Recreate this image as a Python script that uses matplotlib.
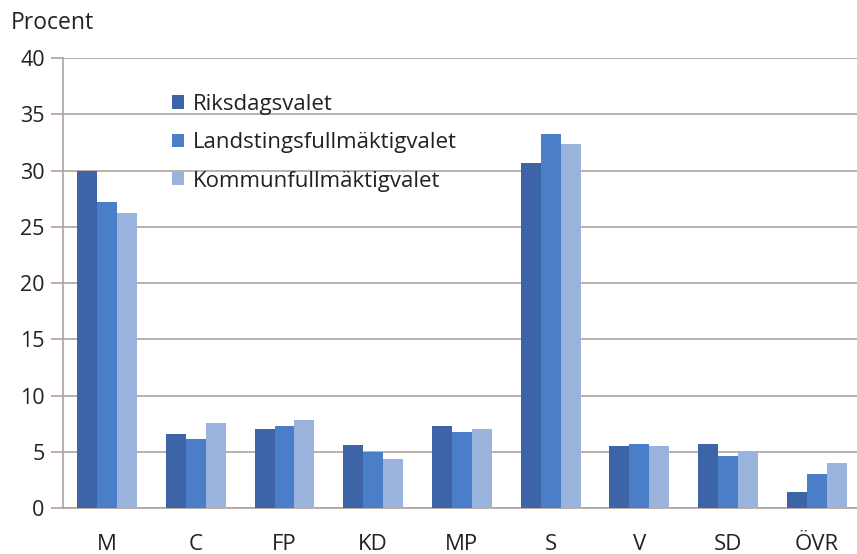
import matplotlib
matplotlib.use("Agg")
import matplotlib.pyplot as plt
import numpy as np

plt.rcParams['font.family'] = ['Open Sans', 'DejaVu Sans']

categories = ["M", "C", "FP", "KD", "MP", "S", "V", "SD", "ÖVR"]
riksdag = [30.0, 6.6, 7.0, 5.6, 7.3, 30.7, 5.5, 5.7, 1.4]
landsting = [27.2, 6.1, 7.25, 5.0, 6.8, 33.3, 5.7, 4.6, 3.0]
kommun = [26.2, 7.6, 7.8, 4.35, 7.05, 32.4, 5.55, 4.95, 4.0]
series_names = ["Riksdagsvalet", "Landstingsfullmäktigvalet", "Kommunfullmäktigvalet"]
colors = ["#3c64a6", "#4a7ec8", "#9ab3dc"]
grid_color = "#b0a29c"
text_color = "#222222"

fig = plt.figure(figsize=(8.57, 5.54), dpi=100)
ax = fig.add_axes([0.0732, 0.083, 0.9315, 0.812])

x = np.arange(len(categories))
w = 0.225
for i, (vals, name, c) in enumerate(zip([riksdag, landsting, kommun], series_names, colors)):
    ax.bar(x + (i - 1) * w, vals, width=w, color=c, label=name, zorder=3)

ax.set_xlim(-0.5, len(categories) - 0.5)
ax.set_ylim(0, 40)
ax.set_yticks(range(0, 41, 5))
ax.yaxis.grid(True, color=grid_color, linewidth=1.2, zorder=0)
ax.set_xticks(x)
ax.set_xticklabels(categories)
ax.tick_params(axis='x', length=0, labelsize=16, pad=19, labelcolor=text_color)
ax.tick_params(axis='y', length=9, width=1.2, color=grid_color, labelsize=15.5, pad=4,
               labelcolor=text_color)
for s in ["top", "right"]:
    ax.spines[s].set_visible(False)
for s in ["left", "bottom"]:
    ax.spines[s].set_color(grid_color)
    ax.spines[s].set_linewidth(1.2)

fig.text(0.013, 0.958, "Procent", fontsize=16.5, ha="left", va="center", color=text_color)

leg = ax.legend(loc="upper left", bbox_to_anchor=(0.112, 0.965), frameon=False,
                fontsize=16, handlelength=0.55, handleheight=0.55, handletextpad=0.4,
                labelspacing=0.78)
for t in leg.get_texts():
    t.set_color(text_color)

fig.savefig("out.png", dpi=100)
